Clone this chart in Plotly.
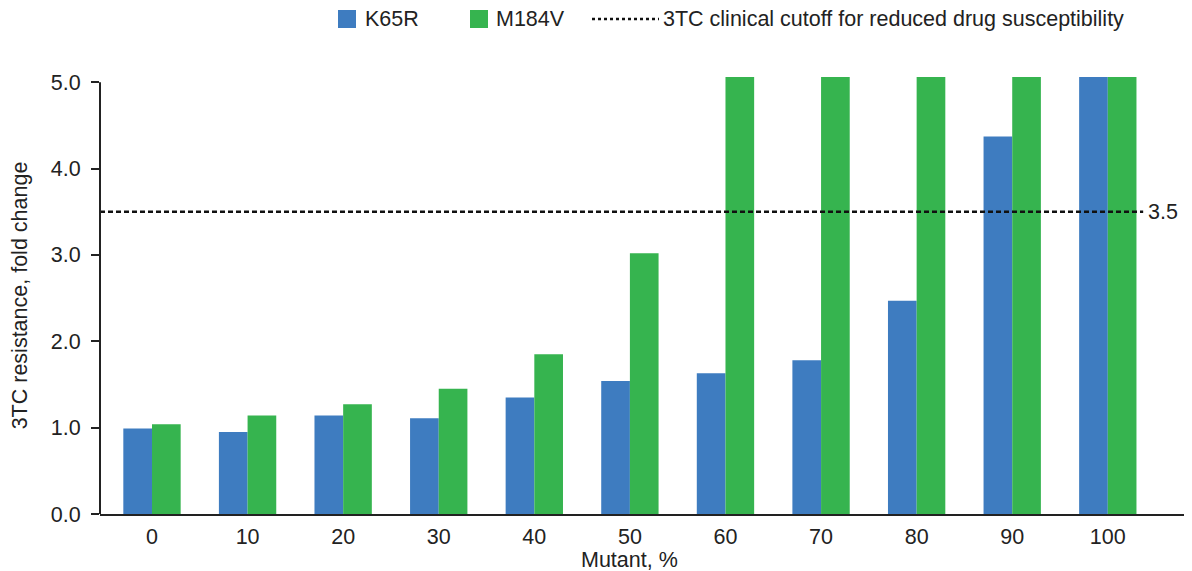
import plotly.graph_objects as go

categories = ["0", "10", "20", "30", "40", "50", "60", "70", "80", "90", "100"]
k65r = [0.99, 0.95, 1.14, 1.11, 1.35, 1.54, 1.63, 1.78, 2.47, 4.37, 5.06]
m184v = [1.04, 1.14, 1.27, 1.45, 1.85, 3.02, 5.06, 5.06, 5.06, 5.06, 5.06]
cutoff = 3.5
y_ticks = [0, 1, 2, 3, 4, 5]
y_tick_labels = ["0.0", "1.0", "2.0", "3.0", "4.0", "5.0"]

BLUE = "#3E7CC0"
GREEN = "#36B44F"
TXT = "#222"
FONT = "Liberation Sans, Arial, sans-serif"
FS = 21.5

# page has an 8px body margin; plot area maps reference pixels x 100..1190, y 77..514
PX0, PY0, PW, PH = 100, 77, 1090, 437


def px(x):
    return (x - PX0) / PW


def py(y):
    return (PY0 + PH - y) / PH


fig = go.Figure()
fig.add_trace(go.Bar(x=categories, y=k65r, name="K65R", marker_color=BLUE, marker_line_width=0))
fig.add_trace(go.Bar(x=categories, y=m184v, name="M184V", marker_color=GREEN, marker_line_width=0))

# cutoff line
fig.add_shape(type="line", xref="x", yref="y", x0=-0.544, x1=10.37, y0=cutoff, y1=cutoff,
              line=dict(color="#111", width=2.5, dash="5px,3px"))
fig.add_annotation(x=10.37, y=cutoff, xref="x", yref="y", text="3.5", showarrow=False,
                   xanchor="left", font=dict(size=FS, color=TXT), xshift=3)

# y axis line (0 to 5 only)
fig.add_shape(type="line", xref="paper", yref="y", x0=0, x1=0, y0=0, y1=5,
              line=dict(color=TXT, width=2))

# manual legend
ly = py(19)
fig.add_shape(type="rect", xref="paper", yref="paper", x0=px(338), x1=px(356),
              y0=py(28), y1=py(10), fillcolor=BLUE, line_width=0)
fig.add_annotation(xref="paper", yref="paper", x=px(363), y=ly, text="K65R",
                   showarrow=False, xanchor="left", yanchor="middle", font=dict(size=FS, color=TXT))
fig.add_shape(type="rect", xref="paper", yref="paper", x0=px(470), x1=px(488),
              y0=py(28), y1=py(10), fillcolor=GREEN, line_width=0)
fig.add_annotation(xref="paper", yref="paper", x=px(494), y=ly, text="M184V",
                   showarrow=False, xanchor="left", yanchor="middle", font=dict(size=FS, color=TXT))
fig.add_shape(type="line", xref="paper", yref="paper", x0=px(592), x1=px(659),
              y0=ly, y1=ly, line=dict(color="#111", width=2.5, dash="3px,3px"))
fig.add_annotation(xref="paper", yref="paper", x=px(661), y=ly,
                   text="3TC clinical cutoff for reduced drug susceptibility",
                   showarrow=False, xanchor="left", yanchor="middle", font=dict(size=FS, color=TXT))

# x title
fig.add_annotation(xref="x", yref="paper", x=5, y=py(560), text="Mutant, %",
                   showarrow=False, yanchor="middle", font=dict(size=FS, color=TXT))

fig.update_layout(
    width=1184, height=563,
    margin=dict(l=92, r=2, t=69, b=57),
    paper_bgcolor="white", plot_bgcolor="white",
    barmode="group", bargap=0.4, bargroupgap=0,
    showlegend=False,
    font=dict(family=FONT, size=FS, color=TXT),
)
fig.update_xaxes(type="category", range=[-0.544, 10.86], showline=True, linecolor=TXT, linewidth=2,
                 ticks="outside", ticklen=2, tickcolor="rgba(0,0,0,0)", showgrid=False,
                 tickfont=dict(size=FS, color=TXT))
fig.update_yaxes(range=[0, 5.06], tickvals=y_ticks, ticktext=y_tick_labels, showline=False,
                 ticks="outside", ticklen=8, tickwidth=2, tickcolor=TXT, showgrid=False,
                 zeroline=False, tickfont=dict(size=FS, color=TXT), ticklabelstandoff=6,
                 title=dict(text="3TC resistance, fold change", font=dict(size=FS, color=TXT), standoff=18))

fig.write_html("out.html")
